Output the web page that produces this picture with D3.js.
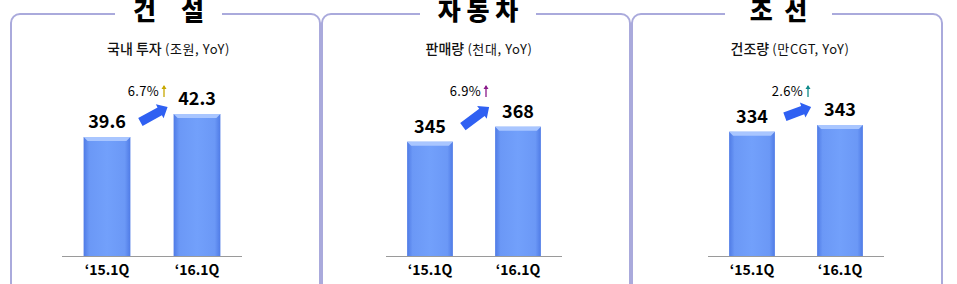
<!DOCTYPE html>
<html>
<title>industry</title>
<meta charset="UTF-8">
<script type="text/javascript" src="https://d3js.org/d3.v7.min.js"></script>
<style type="text/css">
	body {
		margin:0;
		background:white;
	}
	text {
		font-family: "Noto Sans CJK KR", "Noto Sans", sans-serif;
	}
</style>
<body>
	<svg id="viz"></svg>
</body>
<script type="text/javascript">

	// data
	var titles = ["건\u3000설", "자 동 차", "조  선"];
	var subtitles = ["국내 투자", "판매량", "건조량"];
	var units = ["(조원, YoY)", "(천대, YoY)", "(만CGT, YoY)"];
	var categories = ["\u201815.1Q", "\u201816.1Q"];
	var values = [
		[39.6, 42.3],
		[345, 368],
		[334, 343]
	];
	var changes = ["6.7%", "6.9%", "2.6%"];
	var labels = [
		["39.6", "42.3"],
		["345", "368"],
		["334", "343"]
	];
	var yDomains = [[25.6, 42.3], [169, 368], [166.3, 343]];

	var W = 957, H = 284;
	var baseline = 256.5;
	var frames = [
		{x0: 11, x1: 320, gap: [115, 222], axis: [62, 242], yTop: 114},
		{x0: 322, x1: 630, gap: [420, 536], axis: [386, 562], yTop: 126.7},
		{x0: 632, x1: 942, gap: [725, 832], axis: [708, 884], yTop: 125}
	];
	var upColors = ["#c8a800", "#8a1a8a", "#108a8a"];

	var svg = d3.select("#viz")
		.attr("width", W)
		.attr("height", H);

	var defs = svg.append("defs");
	var grad = defs.append("linearGradient")
		.attr("id", "barGrad")
		.attr("x1", "0").attr("x2", "1").attr("y1", "0").attr("y2", "0");
	grad.append("stop").attr("offset", "0").attr("stop-color", "#4f7be6");
	grad.append("stop").attr("offset", "0.12").attr("stop-color", "#6b98f6");
	grad.append("stop").attr("offset", "0.5").attr("stop-color", "#72a0fb");
	grad.append("stop").attr("offset", "0.88").attr("stop-color", "#6b98f6");
	grad.append("stop").attr("offset", "1").attr("stop-color", "#4f7be6");

	frames.forEach(function(f, i){
		var g = svg.append("g");

		// frame
		g.append("rect")
			.attr("x", f.x0).attr("y", 14)
			.attr("width", f.x1 - f.x0).attr("height", 320)
			.attr("rx", 9)
			.attr("fill", "none")
			.attr("stroke", "#aaaadc")
			.attr("stroke-width", 2);
		g.append("rect")
			.attr("x", f.gap[0]).attr("y", 8)
			.attr("width", f.gap[1] - f.gap[0]).attr("height", 12)
			.attr("fill", "white");

		var cx = (f.gap[0] + f.gap[1]) / 2;
		g.append("text")
			.attr("x", cx).attr("y", 20)
			.attr("text-anchor", "middle")
			.style("white-space", "pre")
			.style("font-size", "25px")
			.style("font-weight", "900")
			.text(titles[i]);

		var sub = g.append("text")
			.attr("x", (f.x0 + f.x1) / 2 + 3).attr("y", 54)
			.attr("text-anchor", "middle")
			.attr("fill", "#111");
		sub.append("tspan")
			.style("font-size", "14px")
			.style("font-weight", "500")
			.text(subtitles[i] + " ");
		sub.append("tspan")
			.style("font-size", "13px")
			.style("letter-spacing", "0.6px")
			.text(units[i]);

		var x = d3.scaleBand()
			.domain(categories)
			.range(f.axis)
			.paddingInner(0.48)
			.paddingOuter(0.24);
		var y = d3.scaleLinear()
			.domain(yDomains[i])
			.range([baseline, f.yTop]);

		var data = values[i].map(function(v, j){
			return {cat: categories[j], v: v, label: labels[i][j]};
		});

		// bars
		g.selectAll("rect.bar")
			.data(data)
			.enter().append("rect")
			.attr("class", "bar")
			.attr("x", function(d){ return x(d.cat); })
			.attr("y", function(d){ return y(d.v); })
			.attr("width", x.bandwidth())
			.attr("height", function(d){ return baseline - y(d.v); })
			.attr("fill", "url(#barGrad)");
		// top bevel
		g.selectAll("path.bevel")
			.data(data)
			.enter().append("path")
			.attr("class", "bevel")
			.attr("d", function(d){
				var x0 = x(d.cat), x1 = x0 + x.bandwidth(), t = y(d.v);
				return "M" + x0 + "," + t + "L" + x1 + "," + t +
					"L" + (x1 - 4) + "," + (t + 4) + "L" + (x0 + 4) + "," + (t + 4) + "Z";
			})
			.attr("fill", "#a9c6ff");

		// axis
		var axis = d3.axisBottom(x).tickSize(0).tickPadding(9);
		var ax = g.append("g")
			.attr("transform", "translate(0," + baseline + ")")
			.call(axis);
		ax.select(".domain")
			.attr("stroke", "#9a9a9a")
			.attr("d", "M" + f.axis[0] + ",0H" + f.axis[1]);
		ax.selectAll("text")
			.style("font-size", "14px")
			.style("font-weight", "bold")
			.attr("fill", "#000");

		// value labels
		g.selectAll("text.val")
			.data(data)
			.enter().append("text")
			.attr("class", "val")
			.attr("x", function(d){ return x(d.cat) + x.bandwidth() / 2; })
			.attr("y", function(d){ return y(d.v) - 9; })
			.attr("text-anchor", "middle")
			.style("font-size", "18px")
			.style("font-weight", "bold")
			.text(function(d){ return d.label; });

		// growth arrow
		var tx = x(categories[0]) + x.bandwidth() + 10, ty = y(values[i][0]) - 15;
		var hx = x(categories[1]) - 6, hy = 107;
		var ang = Math.atan2(hy - ty, hx - tx) * 180 / Math.PI;
		var len = Math.hypot(hx - tx, hy - ty);
		g.append("path")
			.attr("transform", "translate(" + tx + "," + ty + ") rotate(" + ang + ")")
			.attr("d", "M0,-4.5L" + (len - 9) + ",-4.5L" + (len - 9) + ",-8L" + len + ",0L" +
				(len - 9) + ",8L" + (len - 9) + ",4.5L0,4.5Z")
			.attr("fill", "#2f60f2");

		// change label
		var mx = (x(categories[0]) + x.bandwidth() + x(categories[1])) / 2;
		g.append("text")
			.attr("x", mx + 7).attr("y", 96)
			.attr("text-anchor", "end")
			.style("font-size", "13px")
			.style("letter-spacing", "0.3px")
			.text(changes[i]);
		g.append("line")
			.attr("x1", mx + 12).attr("x2", mx + 12)
			.attr("y1", 97).attr("y2", 86)
			.attr("stroke", upColors[i])
			.attr("stroke-width", 1.3);
		g.append("path")
			.attr("d", "M" + (mx + 9.5) + ",89L" + (mx + 12) + ",85L" + (mx + 14.5) + ",89Z")
			.attr("fill", upColors[i]);
	});

</script>
</html>
